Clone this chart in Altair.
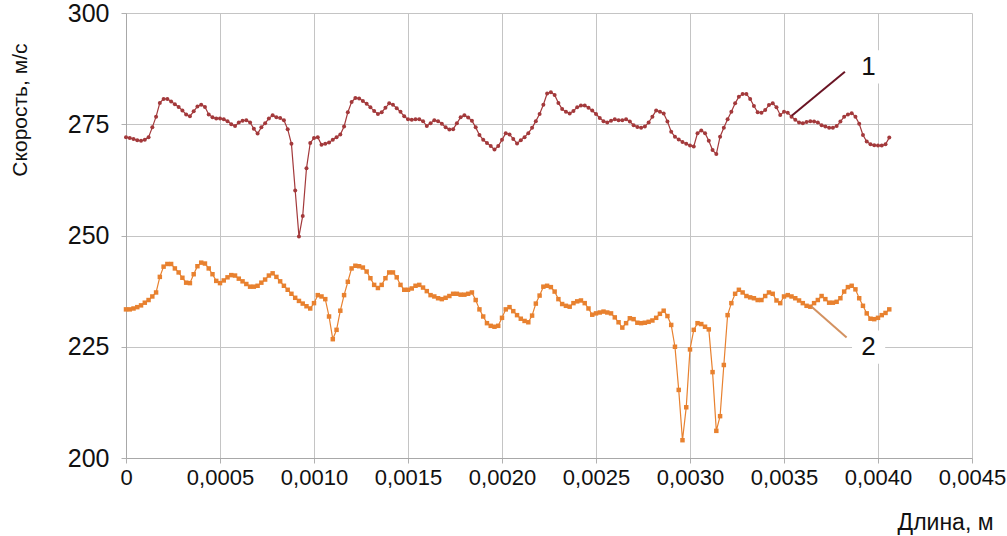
import altair as alt
import numpy as np
import pandas as pd

# Sampling step along the length axis, m
X_STEP = 0.00002

# Curve 1: velocity, m/s
speed_1 = [
    272.1, 271.9, 271.7, 271.4, 271.3, 271.5, 272.1, 274.3, 276.7, 279.8,
    280.7, 280.7, 280.1, 279.5, 278.9, 278.1, 277.2, 276.8, 277.9, 279.0,
    279.4, 278.9, 277.2, 276.6, 276.3, 276.3, 276.1, 275.7, 275.0, 274.6,
    275.4, 275.8, 275.9, 275.4, 274.0, 272.9, 274.3, 275.2, 276.3, 277.0,
    276.6, 276.4, 275.9, 273.9, 270.6, 260.1, 249.8, 254.4, 265.1, 270.8,
    271.9, 272.1, 270.4, 270.6, 270.9, 271.5, 272.1, 272.7, 274.5, 277.7,
    280.0, 280.9, 280.8, 280.2, 279.6, 278.8, 278.0, 277.3, 277.7, 278.7,
    279.7, 279.4, 278.6, 277.8, 276.8, 276.1, 276.0, 276.1, 276.1, 275.7,
    274.6, 275.2, 275.9, 275.7, 275.1, 274.3, 273.8, 273.9, 275.2, 276.6,
    277.0, 276.5, 275.8, 274.3, 272.6, 271.5, 270.8, 270.1, 269.3, 270.1,
    271.5, 273.0, 272.7, 271.7, 270.7, 271.4, 272.1, 273.0, 274.2, 275.7,
    277.3, 279.4, 281.9, 282.2, 281.6, 279.8, 278.4, 277.8, 277.4, 278.0,
    278.8, 279.2, 279.2, 278.7, 278.1, 277.3, 276.4, 275.7, 275.4, 275.8,
    276.1, 275.9, 275.9, 276.1, 275.6, 274.8, 274.4, 274.2, 274.5, 275.4,
    276.7, 278.1, 277.8, 277.4, 275.6, 273.3, 272.2, 271.6, 271.0, 270.6,
    270.2, 270.0, 273.0, 273.6, 273.0, 271.3, 269.2, 268.3, 272.2, 274.2,
    276.1, 277.8, 279.7, 281.2, 281.8, 281.8, 280.7, 279.1, 277.7, 277.6,
    278.2, 279.3, 279.7, 278.8, 277.1, 277.8, 277.6, 276.7, 276.0, 275.4,
    275.2, 275.5, 275.7, 275.6, 275.4, 274.8, 274.5, 274.2, 274.2, 274.6,
    275.6, 276.7, 277.2, 277.5, 276.7, 275.1, 272.6, 271.1, 270.5, 270.3,
    270.2, 270.2, 270.5, 272.0,
]

# Curve 2: velocity, m/s
speed_2 = [
    233.4, 233.4, 233.6, 233.9, 234.3, 234.9, 235.5, 236.3, 237.2, 240.7,
    243.0, 243.6, 243.6, 242.6, 241.7, 240.5, 239.4, 239.3, 241.3, 243.1,
    243.9, 243.7, 242.6, 241.3, 239.8, 239.3, 239.9, 240.6, 241.1, 241.0,
    240.3, 239.7, 239.1, 238.5, 238.5, 238.7, 239.4, 240.1, 241.0, 241.5,
    240.7, 239.7, 238.7, 237.8, 236.9, 236.0, 235.3, 234.7, 234.1, 233.6,
    234.8, 236.6, 236.3, 235.7, 231.8, 226.7, 228.8, 233.1, 236.6, 239.6,
    242.6, 243.2, 243.1, 242.8, 241.9, 240.4, 238.9, 238.2, 238.9, 240.4,
    241.7, 241.7, 240.6, 238.9, 237.8, 237.8, 238.1, 238.7, 238.9, 238.3,
    237.5, 236.6, 236.3, 235.9, 235.7, 236.0, 236.4, 236.9, 236.9, 236.7,
    236.7, 236.9, 237.2, 235.5, 233.4, 231.8, 230.3, 229.7, 229.5, 229.7,
    231.5, 233.4, 233.9, 233.0, 232.1, 231.3, 230.8, 230.5, 232.0, 234.7,
    236.5, 238.5, 238.7, 238.4, 237.4, 235.7, 234.6, 234.2, 234.0, 234.8,
    235.2, 235.4, 234.8, 233.6, 232.2, 232.5, 232.7, 232.9, 232.7, 232.5,
    231.6, 230.5, 229.3, 230.3, 231.4, 231.2, 230.4, 230.3, 230.4, 230.6,
    230.9, 231.5, 232.4, 233.1, 231.9, 229.9, 225.0, 215.3, 204.0, 211.4,
    224.4, 228.8, 230.3, 230.1, 229.5, 228.9, 219.3, 206.1, 209.4, 220.9,
    232.1, 234.8, 236.9, 237.8, 237.2, 236.4, 236.1, 235.9, 235.5, 235.5,
    236.4, 237.2, 236.9, 235.4, 234.8, 236.3, 236.6, 236.3, 235.9, 235.4,
    234.8, 234.2, 234.0, 234.8, 235.5, 236.4, 235.7, 234.9, 234.9, 235.1,
    235.9, 237.4, 238.4, 238.7, 237.9, 235.9, 234.2, 232.5, 231.3, 231.2,
    231.5, 232.1, 232.6, 233.4,
]

x_ticks = [0, 0.0005, 0.0010, 0.0015, 0.0020, 0.0025, 0.0030, 0.0035, 0.0040, 0.0045]
y_ticks = [200, 225, 250, 275, 300]

# Curve labels with their leader lines
label_text = ["1", "2"]
label_x = [0.00395, 0.00395]
label_y = [287.9, 224.9]
leader_x = [0.003541, 0.003647]
leader_y = [276.9, 234.0]
leader_x2 = [0.003824, 0.003833]
leader_y2 = [286.8, 227.1]

COLOR_1 = "#A3393B"
COLOR_2 = "#E8812F"
LEADER_1 = "#6A1424"
LEADER_2 = "#D39160"
FONT = "Liberation Sans"

df1 = pd.DataFrame({"x": np.arange(len(speed_1)) * X_STEP, "v": speed_1})
df2 = pd.DataFrame({"x": np.arange(len(speed_2)) * X_STEP, "v": speed_2})
labels = pd.DataFrame({"t": label_text, "x": label_x, "y": label_y})
leaders = pd.DataFrame({
    "x": leader_x, "y": leader_y, "x2": leader_x2, "y2": leader_y2,
    "c": [LEADER_1, LEADER_2],
})

x_scale = alt.Scale(domain=[0, 0.0045], nice=False, zero=False)
y_scale = alt.Scale(domain=[200, 300], nice=False, zero=False)

x_axis = alt.Axis(
    values=x_ticks,
    labelExpr="datum.value == 0 ? '0' : replace(format(datum.value, '.4f'), '.', ',')",
    labelOverlap=False,
    labelFlush=False,
    title="Длина, м",
    titleAnchor="start",
    titleAlign="right",
    titleBaseline="middle",
    titleX=867,
    titleY=64,
    labelFont=FONT,
    labelFontSize=22,
    labelPadding=4,
    titleFont=FONT,
    titleFontSize=23,
)
y_axis = alt.Axis(
    values=y_ticks,
    title="Скорость, м/с",
    titleAlign="right",
    titleBaseline="middle",
    titleX=-106,
    titleY=30,
    labelFont=FONT,
    labelFontSize=25,
    labelPadding=12,
    titleFont=FONT,
    titleFontSize=21,
)

base_x = alt.X("x:Q", scale=x_scale, axis=x_axis)
base_y = alt.Y("v:Q", scale=y_scale, axis=y_axis)

curve_1 = alt.Chart(df1).mark_line(
    color=COLOR_1, strokeWidth=1.2,
    point=alt.OverlayMarkDef(color=COLOR_1, filled=True, size=16, shape="circle"),
).encode(x=base_x, y=base_y)

curve_2 = alt.Chart(df2).mark_line(
    color=COLOR_2, strokeWidth=1.2,
    point=alt.OverlayMarkDef(color=COLOR_2, filled=True, size=20, shape="square"),
).encode(x=base_x, y=base_y)

leader_rules = alt.Chart(leaders).mark_rule(strokeWidth=2).encode(
    x="x:Q", y="y:Q", x2="x2:Q", y2="y2:Q",
    color=alt.Color("c:N", scale=None),
)

label_bg = alt.Chart(labels).mark_point(
    shape="square", filled=True, color="white", opacity=1, size=1100,
).encode(x="x:Q", y="y:Q")

label_marks = alt.Chart(labels).mark_text(
    font=FONT, fontSize=26, color="#111111",
    align="center", baseline="middle",
).encode(x="x:Q", y="y:Q", text="t:N")

chart = alt.layer(curve_2, curve_1, leader_rules, label_bg, label_marks).properties(
    width=846, height=445,
    autosize=alt.AutoSizeParams(type="none"),
    padding={"left": 126, "top": 13, "right": 35, "bottom": 78},
).configure_view(
    stroke=None,
).configure_axis(
    grid=True,
    gridColor="#C4C4C4",
    gridWidth=1,
    domainColor="#A8A8A8",
    tickColor="#B0B0B0",
    tickSize=5,
    labelColor="#111111",
    titleColor="#111111",
    titleFontWeight="normal",
)

chart.save("out.html", embed_options={"renderer": "svg", "actions": False})
